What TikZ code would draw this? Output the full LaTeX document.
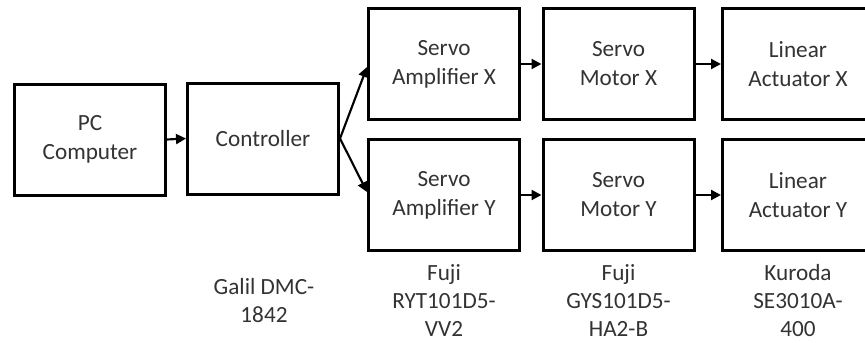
\documentclass[tikz,border=0pt]{standalone}
\usepackage{fontspec}
\setmainfont{Carlito}
\usetikzlibrary{arrows.meta}
\definecolor{txt}{HTML}{333333}
\tikzset{
  blk/.style={draw=black, line width=2.25pt, minimum width=113.25pt, minimum height=83.25pt,
    inner sep=0pt, align=center, font=\fontsize{17.4}{21.75}\selectfont, text=txt},
  lbl/.style={align=center, inner sep=0pt, font=\fontsize{17.4}{21}\selectfont, text=txt},
  conn/.style={line width=1.6pt, -{Triangle[length=7.5pt,width=7.5pt]}}
}
\begin{document}
\begin{tikzpicture}[x=0.75pt,y=-0.75pt]
\clip (0,0) rectangle (865,343);
\fill[white] (0,0) rectangle (865,343);
\node[blk] (pc) at (90,139.5) {PC\\Computer};
\node[blk] (ctrl) at (263,138.5) {Controller};
\node[blk] (ampx) at (444,64) {Servo\\Amplifier X};
\node[blk] (motx) at (618.5,64) {Servo\\Motor X};
\node[blk] (actx) at (798,64) {Linear\\Actuator X};
\node[blk] (ampy) at (444,195) {Servo\\Amplifier Y};
\node[blk] (moty) at (618.5,195) {Servo\\Motor Y};
\node[blk] (acty) at (798,195) {Linear\\Actuator Y};
\node[lbl] (l1) at (264,301) {Galil DMC-\\1842};
\node[lbl] (l2) at (444,301) {Fuji\\RYT101D5-\\VV2};
\node[lbl] (l3) at (618.5,301) {Fuji\\GYS101D5-\\HA2-B};
\node[lbl] (l4) at (798,301) {Kuroda\\SE3010A-\\400};
\draw[conn] (pc.east) -- (ctrl.west);
\draw[conn] (ctrl.east) -- ([yshift=-2.25pt]ampx.west);
\draw[conn] (ctrl.east) -- ([yshift=2.25pt]ampy.west);
\draw[conn] (ampx.east) -- (motx.west);
\draw[conn] (motx.east) -- (actx.west);
\draw[conn] (ampy.east) -- (moty.west);
\draw[conn] (moty.east) -- (acty.west);
\end{tikzpicture}
\end{document}
